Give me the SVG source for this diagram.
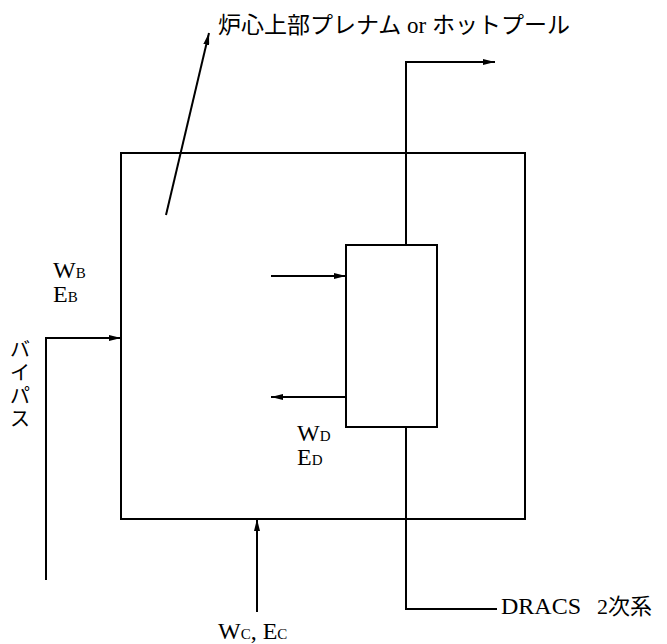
<svg xmlns="http://www.w3.org/2000/svg" width="667" height="644" viewBox="0 0 667 644">
<style>
.ln{fill:none;stroke:#000;stroke-width:2}
.t{font-family:"Liberation Serif","Noto Sans CJK JP",serif;font-size:22px;fill:#000}
.v{font-size:24px}
.s{font-size:15px}
</style>
<defs>
<marker id="ah" viewBox="0 0 12 6" refX="12" refY="3" markerWidth="12" markerHeight="6" markerUnits="userSpaceOnUse" orient="auto">
<path d="M0,0 L12,3 L0,6 z" fill="#000"/>
</marker>
</defs>
<rect width="667" height="644" fill="#fff"/>
<g id="plenum">
<rect class="ln" x="121" y="153" width="404" height="366"/>
</g>
<g id="dracs-hx">
<rect class="ln" x="346" y="245" width="91" height="182"/>
</g>
<g id="connectors">
<line class="ln" x1="166" y1="215" x2="209" y2="33" marker-end="url(#ah)"/>
<polyline class="ln" points="406,245 406,62 495,62" marker-end="url(#ah)"/>
<polyline class="ln" points="406,427 406,609 497,609"/>
<line class="ln" x1="271" y1="276" x2="346" y2="276" marker-end="url(#ah)"/>
<line class="ln" x1="346" y1="397" x2="271" y2="397" marker-end="url(#ah)"/>
<polyline class="ln" points="46,580 46,338 121,338" marker-end="url(#ah)"/>
<line class="ln" x1="257" y1="612" x2="257" y2="519" marker-end="url(#ah)"/>
</g>
<g id="labels">
<text class="t" x="218" y="33" style="font-size:23px">炉心上部プレナム or ホットプール</text>
<text class="t v" x="53" y="278">W<tspan class="s">B</tspan></text>
<text class="t v" x="53" y="302">E<tspan class="s">B</tspan></text>
<text class="t v" x="297" y="441">W<tspan class="s">D</tspan></text>
<text class="t v" x="297" y="465">E<tspan class="s">D</tspan></text>
<text class="t v" x="218" y="639">W<tspan class="s">C</tspan>,  E<tspan class="s">C</tspan></text>
<text class="t v" x="501" y="614">DRACS<tspan dx="16" style="font-size:22px">2次系</tspan></text>
<text class="t" text-anchor="middle" style="font-size:20px"><tspan x="20" y="357">バ</tspan><tspan x="20" y="380">イ</tspan><tspan x="20" y="403">パ</tspan><tspan x="20" y="426">ス</tspan></text>
</g>
</svg>
